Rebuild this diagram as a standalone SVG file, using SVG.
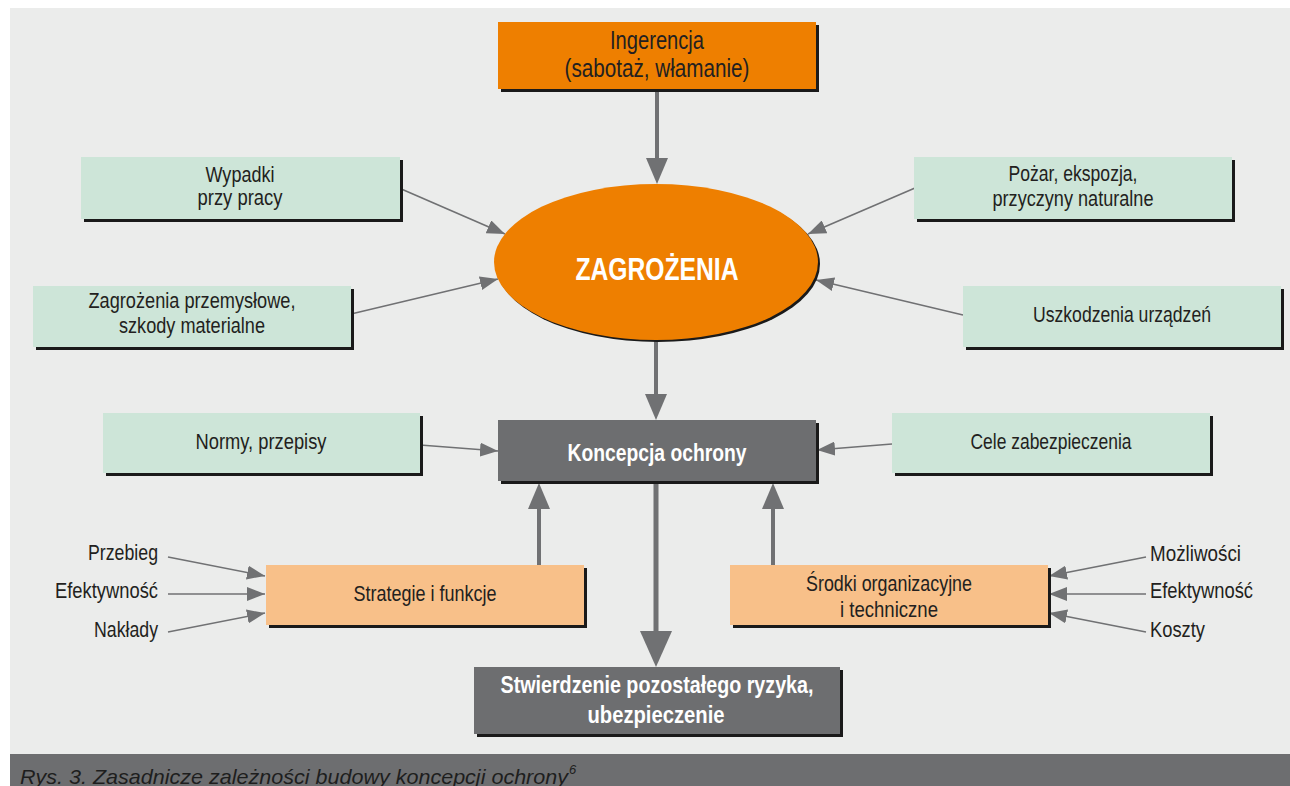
<svg xmlns="http://www.w3.org/2000/svg" width="1290" height="786" viewBox="0 0 1290 786">
  <defs>
    <style>
      .panel { fill: #EBECEB; }
      .band { fill: #6D6E70; }
      .shadow { fill: #1A1A1A; }
      .orange { fill: #EE7F00; }
      .green { fill: #CDE5D8; }
      .peach { fill: #F8C089; }
      .dark { fill: #6D6E70; }
      .t { font-family: "Liberation Sans Narrow", "Liberation Sans", Arial, sans-serif; font-size: 22px; fill: #231F20; text-anchor: middle; }
      .tl { font-family: "Liberation Sans Narrow", "Liberation Sans", Arial, sans-serif; font-size: 22px; fill: #231F20; }
      .big { font-size: 25px; }
      .w { font-family: "Liberation Sans Narrow", "Liberation Sans", Arial, sans-serif; font-weight: bold; fill: #FFFFFF; text-anchor: middle; }
      .cap { font-family: "Liberation Sans Narrow", "Liberation Sans", Arial, sans-serif; font-style: italic; font-size: 21px; fill: #1E1E1E; }
      .thick { stroke: #707173; stroke-width: 4; fill: none; }
      .heavy { stroke: #707173; stroke-width: 5; fill: none; }
      .thin { stroke: #707173; stroke-width: 1.6; fill: none; }
    </style>
    <marker id="headM" markerUnits="userSpaceOnUse" markerWidth="26" markerHeight="22" refX="2" refY="11" orient="auto" viewBox="0 0 26 22">
      <path d="M0,0 L26,11 L0,22 z" fill="#707173"/>
    </marker>
    <marker id="headL" markerUnits="userSpaceOnUse" markerWidth="36" markerHeight="32" refX="2" refY="16" orient="auto" viewBox="0 0 36 32">
      <path d="M0,0 L36,16 L0,32 z" fill="#707173"/>
    </marker>
    <marker id="headS" markerUnits="userSpaceOnUse" markerWidth="18" markerHeight="14" refX="18" refY="7" orient="auto" viewBox="0 0 18 14">
      <path d="M0,0 L18,7 L0,14 z" fill="#707173"/>
    </marker>
  </defs>

  <!-- page background and caption strip -->
  <rect x="0" y="0" width="1290" height="786" fill="#FFFFFF"/>
  <rect class="panel" x="10" y="8" width="1280" height="778"/>
  <rect class="band" x="10" y="754" width="1280" height="32"/>
  <text class="cap" x="20" y="784" textLength="548" lengthAdjust="spacingAndGlyphs">Rys. 3. Zasadnicze zależności budowy koncepcji ochrony</text>
  <text class="cap" x="569" y="774" style="font-size:13px">6</text>

  <!-- connectors -->
  <g id="connectors">
    <line class="thick" x1="657" y1="90" x2="657" y2="160" marker-end="url(#headM)"/>
    <line class="thick" x1="656" y1="340" x2="656" y2="396" marker-end="url(#headM)"/>
    <line class="heavy" x1="656" y1="481" x2="656" y2="633" marker-end="url(#headL)"/>
    <line class="thick" x1="539" y1="565" x2="539" y2="507" marker-end="url(#headM)"/>
    <line class="thick" x1="773" y1="565" x2="773" y2="507" marker-end="url(#headM)"/>

    <line class="thin" x1="399" y1="188" x2="505" y2="234" marker-end="url(#headS)"/>
    <line class="thin" x1="351" y1="314" x2="498" y2="279" marker-end="url(#headS)"/>
    <line class="thin" x1="915" y1="188" x2="808" y2="234" marker-end="url(#headS)"/>
    <line class="thin" x1="963" y1="315" x2="816" y2="280" marker-end="url(#headS)"/>
    <line class="thin" x1="420" y1="445" x2="498" y2="451" marker-end="url(#headS)"/>
    <line class="thin" x1="892" y1="444" x2="817" y2="450" marker-end="url(#headS)"/>

    <line class="thin" x1="168" y1="557" x2="265" y2="576" marker-end="url(#headS)"/>
    <line class="thin" x1="168" y1="594" x2="265" y2="594" marker-end="url(#headS)"/>
    <line class="thin" x1="168" y1="632" x2="265" y2="613" marker-end="url(#headS)"/>
    <line class="thin" x1="1146" y1="557" x2="1049" y2="576" marker-end="url(#headS)"/>
    <line class="thin" x1="1146" y1="594" x2="1049" y2="594" marker-end="url(#headS)"/>
    <line class="thin" x1="1146" y1="632" x2="1049" y2="613" marker-end="url(#headS)"/>
  </g>

  <!-- nodes -->
  <g id="ingerencja">
    <rect class="shadow" x="501" y="25" width="318" height="67"/>
    <rect class="orange" x="498" y="22" width="318" height="67"/>
    <text class="t big" x="657" y="49" textLength="94" lengthAdjust="spacingAndGlyphs">Ingerencja</text>
    <text class="t big" x="657" y="77" textLength="185" lengthAdjust="spacingAndGlyphs">(sabotaż, włamanie)</text>
  </g>

  <g id="zagrozenia">
    <ellipse class="shadow" cx="658" cy="264" rx="162" ry="78"/>
    <ellipse class="orange" cx="656" cy="262" rx="162" ry="78"/>
    <text class="w" x="657" y="280" style="font-size:32px" textLength="163" lengthAdjust="spacingAndGlyphs">ZAGROŻENIA</text>
  </g>

  <g id="wypadki">
    <rect class="shadow" x="84" y="160" width="319" height="62"/>
    <rect class="green" x="81" y="157" width="319" height="62"/>
    <text class="t" x="240" y="182" textLength="69" lengthAdjust="spacingAndGlyphs">Wypadki</text>
    <text class="t" x="240" y="205" textLength="85" lengthAdjust="spacingAndGlyphs">przy pracy</text>
  </g>

  <g id="przemyslowe">
    <rect class="shadow" x="36" y="289" width="318" height="61"/>
    <rect class="green" x="33" y="286" width="318" height="61"/>
    <text class="t" x="192" y="308" textLength="207" lengthAdjust="spacingAndGlyphs">Zagrożenia przemysłowe,</text>
    <text class="t" x="192" y="333" textLength="146" lengthAdjust="spacingAndGlyphs">szkody materialne</text>
  </g>

  <g id="pozar">
    <rect class="shadow" x="917" y="160" width="318" height="62"/>
    <rect class="green" x="914" y="157" width="318" height="62"/>
    <text class="t" x="1073" y="181" textLength="129" lengthAdjust="spacingAndGlyphs">Pożar, ekspozja,</text>
    <text class="t" x="1073" y="206" textLength="161" lengthAdjust="spacingAndGlyphs">przyczyny naturalne</text>
  </g>

  <g id="uszkodzenia">
    <rect class="shadow" x="966" y="289" width="318" height="61"/>
    <rect class="green" x="963" y="286" width="318" height="61"/>
    <text class="t" x="1122" y="322" textLength="178" lengthAdjust="spacingAndGlyphs">Uszkodzenia urządzeń</text>
  </g>

  <g id="normy">
    <rect class="shadow" x="106" y="416" width="317" height="60"/>
    <rect class="green" x="103" y="413" width="317" height="60"/>
    <text class="t" x="261" y="449" textLength="131" lengthAdjust="spacingAndGlyphs">Normy, przepisy</text>
  </g>

  <g id="cele">
    <rect class="shadow" x="895" y="416" width="318" height="60"/>
    <rect class="green" x="892" y="413" width="318" height="60"/>
    <text class="t" x="1051" y="449" textLength="161" lengthAdjust="spacingAndGlyphs">Cele zabezpieczenia</text>
  </g>

  <g id="koncepcja">
    <rect class="shadow" x="501" y="423" width="318" height="61"/>
    <rect class="dark" x="498" y="420" width="318" height="61"/>
    <text class="w" x="657" y="461" style="font-size:24px" textLength="179" lengthAdjust="spacingAndGlyphs">Koncepcja ochrony</text>
  </g>

  <g id="strategie">
    <rect class="shadow" x="269" y="568" width="318" height="60"/>
    <rect class="peach" x="266" y="565" width="318" height="60"/>
    <text class="t" x="425" y="601" textLength="143" lengthAdjust="spacingAndGlyphs">Strategie i funkcje</text>
  </g>

  <g id="srodki">
    <rect class="shadow" x="733" y="568" width="318" height="60"/>
    <rect class="peach" x="730" y="565" width="318" height="60"/>
    <text class="t" x="889" y="591" textLength="166" lengthAdjust="spacingAndGlyphs">Środki organizacyjne</text>
    <text class="t" x="889" y="617" textLength="98" lengthAdjust="spacingAndGlyphs">i techniczne</text>
  </g>

  <g id="stwierdzenie">
    <rect class="shadow" x="477" y="670" width="366" height="67"/>
    <rect class="dark" x="474" y="667" width="366" height="67"/>
    <text class="w" x="657" y="693" style="font-size:23px" textLength="313" lengthAdjust="spacingAndGlyphs">Stwierdzenie pozostałego ryzyka,</text>
    <text class="w" x="656" y="723" style="font-size:23px" textLength="137" lengthAdjust="spacingAndGlyphs">ubezpieczenie</text>
  </g>

  <!-- input factors -->
  <g id="czynniki-lewe">
    <text class="tl" x="88" y="560" textLength="70" lengthAdjust="spacingAndGlyphs">Przebieg</text>
    <text class="tl" x="55" y="598" textLength="103" lengthAdjust="spacingAndGlyphs">Efektywność</text>
    <text class="tl" x="94" y="637" textLength="64" lengthAdjust="spacingAndGlyphs">Nakłady</text>
  </g>
  <g id="czynniki-prawe">
    <text class="tl" x="1150" y="561" textLength="91" lengthAdjust="spacingAndGlyphs">Możliwości</text>
    <text class="tl" x="1150" y="598" textLength="103" lengthAdjust="spacingAndGlyphs">Efektywność</text>
    <text class="tl" x="1150" y="637" textLength="55" lengthAdjust="spacingAndGlyphs">Koszty</text>
  </g>
</svg>
